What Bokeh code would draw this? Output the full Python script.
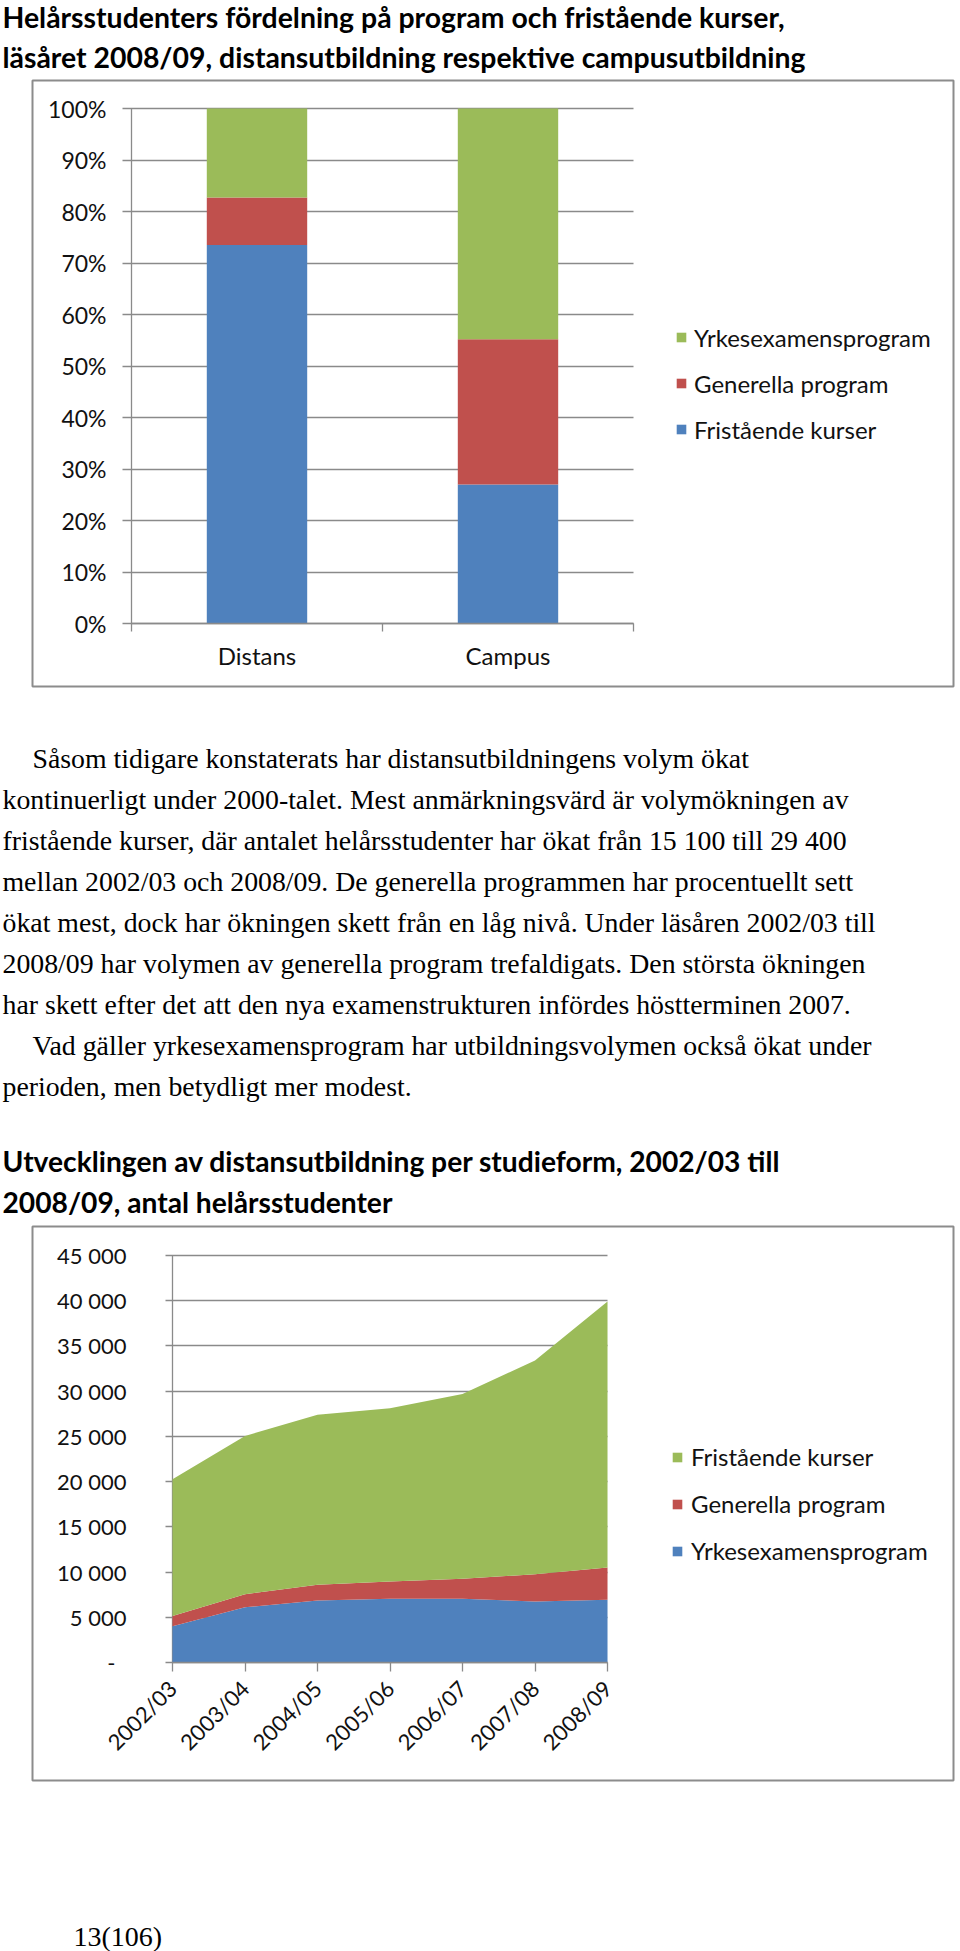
import math
from bokeh.plotting import figure
from bokeh.models import Range1d, LinearAxis, FixedTicker, Legend, LegendItem, ColumnDataSource
from bokeh.layouts import column
from bokeh.embed import file_html
from bokeh.resources import INLINE
from bokeh.core.properties import value

# ---------------- data ----------------
title1_lines = [
    "Helårsstudenters fördelning på program och fristående kurser,",
    "läsåret 2008/09, distansutbildning respektive campusutbildning",
]
bar_categories = ["Distans", "Campus"]
bar_fristaende = [73.5, 27.0]
bar_generella = [9.2, 28.2]
bar_yrkes = [17.3, 44.8]
pct_ticks = [0, 10, 20, 30, 40, 50, 60, 70, 80, 90, 100]
pct_tick_labels = ["0%", "10%", "20%", "30%", "40%", "50%", "60%", "70%", "80%", "90%", "100%"]
bar_legend = ["Yrkesexamensprogram", "Generella program", "Fristående kurser"]

para_lines = [
    "Såsom tidigare konstaterats har distansutbildningens volym ökat",
    "kontinuerligt under 2000-talet. Mest anmärkningsvärd är volymökningen av",
    "fristående kurser, där antalet helårsstudenter har ökat från 15 100 till 29 400",
    "mellan 2002/03 och 2008/09. De generella programmen har procentuellt sett",
    "ökat mest, dock har ökningen skett från en låg nivå. Under läsåren 2002/03 till",
    "2008/09 har volymen av generella program trefaldigats. Den största ökningen",
    "har skett efter det att den nya examenstrukturen infördes höstterminen 2007.",
    "Vad gäller yrkesexamensprogram har utbildningsvolymen också ökat under",
    "perioden, men betydligt mer modest.",
]
para_indent = [True, False, False, False, False, False, False, True, False]

title2_lines = [
    "Utvecklingen av distansutbildning per studieform, 2002/03 till",
    "2008/09, antal helårsstudenter",
]
years = ["2002/03", "2003/04", "2004/05", "2005/06", "2006/07", "2007/08", "2008/09"]
area_yrkes = [4000, 6100, 6850, 7050, 7050, 6750, 6950]
area_generella = [1150, 1450, 1750, 1900, 2200, 3000, 3550]
area_fristaende = [15100, 17500, 18800, 19150, 20450, 23650, 29400]
count_ticks = [0, 5000, 10000, 15000, 20000, 25000, 30000, 35000, 40000, 45000]
count_tick_labels = ["-\u2002", "5 000", "10 000", "15 000", "20 000", "25 000",
                     "30 000", "35 000", "40 000", "45 000"]
area_legend = ["Fristående kurser", "Generella program", "Yrkesexamensprogram"]
page_number = "13(106)"

# ---------------- styles ----------------
BLUE, RED, GREEN = "#4F81BD", "#C0504D", "#9BBB59"
GRID = "#8a8a8a"
BOX = "#8c8c8c"
SANS_V = value("Lato")
SERIF_V = value("Liberation Serif")
SANS = "Lato"
TXT = "#111111"
W = 960
BL, BR = 32, 7          # common left/right borders of every figure in the column


def text_fig(h):
    # frame spans canvas px BL..W-BR, the x range is set so that data x == canvas px
    f = figure(width=W, height=h, x_range=Range1d(BL, W - BR), y_range=Range1d(h, 0),
               output_backend="svg", toolbar_location=None,
               min_border_left=BL, min_border_right=BR, min_border_top=0, min_border_bottom=0,
               x_axis_type=None, y_axis_type=None, title=None)
    f.grid.visible = False
    f.outline_line_color = None
    return f


# ---------------- title 1 ----------------
t1 = text_fig(79)
t1.text(x=[2, 2], y=[16, 56], text=title1_lines, text_font=SANS_V, text_font_style="bold",
        text_font_size="28.4px", text_baseline="alphabetic", text_color="black",
        level="overlay")

# ---------------- chart 1 (stacked 100% bars) ----------------
c1 = figure(width=W, height=609, output_backend="svg", toolbar_location=None,
            x_range=Range1d(-0.3944, 3.2749), y_range=Range1d(-12.23, 105.44),
            x_axis_type=None, y_axis_type=None,
            min_border_left=BL, min_border_right=BR, min_border_top=1, min_border_bottom=2)
c1.grid.visible = False
c1.outline_line_color = BOX
c1.outline_line_width = 2

src1 = ColumnDataSource(dict(
    x=[i + 0.5 for i in range(len(bar_categories))],
    fri=bar_fristaende, gen=bar_generella, yrk=bar_yrkes))
rb = c1.vbar_stack(["fri", "gen", "yrk"], x="x", width=0.4, color=[BLUE, RED, GREEN],
                   line_color=None, source=src1)

ax1y = LinearAxis(fixed_location=0, bounds=(0, 100), ticker=FixedTicker(ticks=pct_ticks),
                  major_label_overrides={t: l for t, l in zip(pct_ticks, pct_tick_labels)},
                  major_tick_out=9, major_tick_in=502, minor_tick_out=0, minor_tick_in=0,
                  major_label_standoff=16, axis_line_color=GRID, axis_line_width=1.3,
                  major_tick_line_color=GRID, major_tick_line_width=1.3,
                  major_label_text_font=SANS, major_label_text_font_size="23px",
                  major_label_text_color=TXT, level="underlay")
c1.add_layout(ax1y, "left")

ax1x = LinearAxis(fixed_location=0, bounds=(0, len(bar_categories)),
                  ticker=FixedTicker(ticks=list(range(len(bar_categories) + 1))),
                  major_tick_out=8, major_tick_in=0, minor_tick_out=0, minor_tick_in=0,
                  axis_line_color=GRID, axis_line_width=1.3,
                  major_tick_line_color=GRID, major_tick_line_width=1.3,
                  major_label_text_color=None)
c1.add_layout(ax1x, "below")

cat_pos = [i + 0.5 for i in range(len(bar_categories))]
ax1c = LinearAxis(fixed_location=0, ticker=FixedTicker(ticks=cat_pos),
                  major_label_overrides={p: c for p, c in zip(cat_pos, bar_categories)},
                  major_tick_out=0, major_tick_in=0, minor_tick_out=0, minor_tick_in=0,
                  axis_line_color=None, major_tick_line_color=None,
                  major_label_standoff=17, major_label_text_font=SANS,
                  major_label_text_font_size="24px", major_label_text_color=TXT)
c1.add_layout(ax1c, "below")

leg1 = Legend(items=[LegendItem(label=bar_legend[0], renderers=[rb[2]]),
                     LegendItem(label=bar_legend[1], renderers=[rb[1]]),
                     LegendItem(label=bar_legend[2], renderers=[rb[0]])],
              location=(643, 234), padding=0, margin=0, spacing=0,
              glyph_width=12, glyph_height=12, label_height=46, label_standoff=7,
              label_text_font=SANS, label_text_font_size="24px", label_text_color=TXT,
              border_line_color=None, background_fill_alpha=0)
c1.add_layout(leg1, "center")

# ---------------- paragraph + title 2 ----------------
tp = text_fig(536)
base0 = 70
px = [32 if ind else 2 for ind in para_indent]
py = [base0 + 41 * i for i in range(len(para_lines))]
tp.text(x=px, y=py, text=para_lines, text_font=SERIF_V, text_font_size="27.8px",
        text_baseline="alphabetic", text_color="black", level="overlay")
tp.text(x=[2, 2], y=[472, 513], text=title2_lines, text_font=SANS_V, text_font_style="bold",
        text_font_size="28.2px", text_baseline="alphabetic", text_color="black",
        level="overlay")

# ---------------- chart 2 (stacked area) ----------------
c2 = figure(width=W, height=559, output_backend="svg", toolbar_location=None,
            x_range=Range1d(-1.931, 10.772), y_range=Range1d(-13047, 48206),
            x_axis_type=None, y_axis_type=None,
            min_border_left=BL, min_border_right=BR, min_border_top=2, min_border_bottom=3)
c2.grid.visible = False
c2.outline_line_color = BOX
c2.outline_line_width = 2

src2 = ColumnDataSource(dict(x=list(range(len(years))), yrk=area_yrkes,
                             gen=area_generella, fri=area_fristaende))
ra = c2.varea_stack(["yrk", "gen", "fri"], x="x", color=[BLUE, RED, GREEN], source=src2)

ax2y = LinearAxis(fixed_location=0, bounds=(0, count_ticks[-1]), ticker=FixedTicker(ticks=count_ticks),
                  major_label_overrides={t: l for t, l in zip(count_ticks, count_tick_labels)},
                  major_tick_out=7, major_tick_in=435, minor_tick_out=0, minor_tick_in=0,
                  major_label_standoff=39, axis_line_color=GRID, axis_line_width=1.3,
                  major_tick_line_color=GRID, major_tick_line_width=1.3,
                  major_label_text_font=SANS, major_label_text_font_size="22px",
                  major_label_text_color=TXT, level="underlay")
c2.add_layout(ax2y, "left")

ax2x = LinearAxis(fixed_location=0, bounds=(0, len(years) - 1),
                  ticker=FixedTicker(ticks=list(range(len(years)))),
                  major_label_overrides={i: y for i, y in enumerate(years)},
                  major_label_orientation=math.pi / 4,
                  major_tick_out=9, major_tick_in=0, minor_tick_out=0, minor_tick_in=0,
                  major_label_standoff=13, axis_line_color=GRID, axis_line_width=1.3,
                  major_tick_line_color=GRID, major_tick_line_width=1.3,
                  major_label_text_font=SANS, major_label_text_font_size="22px",
                  major_label_text_color=TXT)
c2.add_layout(ax2x, "below")

leg2 = Legend(items=[LegendItem(label=area_legend[0], renderers=[ra[2]]),
                     LegendItem(label=area_legend[1], renderers=[ra[1]]),
                     LegendItem(label=area_legend[2], renderers=[ra[0]])],
              location=(639, 206), padding=0, margin=0, spacing=0,
              glyph_width=12, glyph_height=12, label_height=47, label_standoff=8,
              label_text_font=SANS, label_text_font_size="24px", label_text_color=TXT,
              border_line_color=None, background_fill_alpha=0)
c2.add_layout(leg2, "center")

# ---------------- footer ----------------
tf = text_fig(168)
tf.text(x=[73], y=[153], text=[page_number], text_font=SERIF_V, text_font_size="28px",
        text_baseline="alphabetic", text_color="black", level="overlay")

page = column(t1, c1, tp, c2, tf, spacing=0)
open("out.html", "w").write(file_html(page, INLINE))
